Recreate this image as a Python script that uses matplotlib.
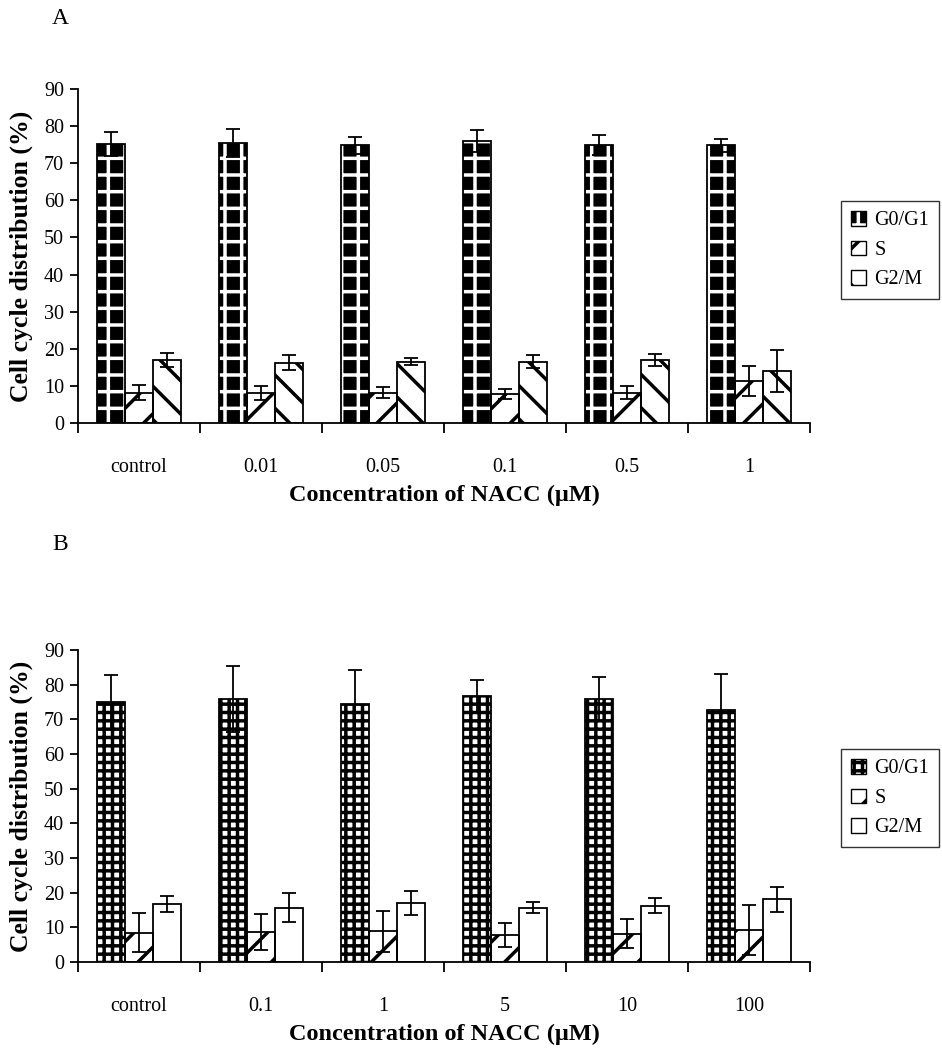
import numpy as np
import matplotlib
matplotlib.use('Agg')
import matplotlib.pyplot as plt
from matplotlib.patches import Patch

plt.rcParams['font.family'] = ['Liberation Serif', 'DejaVu Serif']
plt.rcParams['hatch.linewidth'] = 2.5

phases = ['G0/G1', 'S', 'G2/M']

# panel A
conc_a = ['control', '0.01', '0.05', '0.1', '0.5', '1']
g0_a = [75.2, 75.4, 74.8, 75.9, 74.9, 74.8]
g0_a_err = [3.3, 3.8, 2.2, 3.0, 2.6, 1.7]
s_a = [8.2, 8.2, 8.2, 7.8, 8.2, 11.3]
s_a_err = [2.0, 1.9, 1.4, 1.3, 1.7, 4.0]
g2_a = [17.0, 16.2, 16.5, 16.5, 17.0, 14.0]
g2_a_err = [1.8, 2.0, 1.0, 1.8, 1.7, 5.6]

# panel B
conc_b = ['control', '0.1', '1', '5', '10', '100']
g0_b = [75.0, 75.9, 74.5, 76.8, 75.9, 72.6]
g0_b_err = [7.7, 9.6, 9.6, 4.6, 6.4, 10.6]
s_b = [8.5, 8.7, 8.8, 7.8, 8.2, 9.2]
s_b_err = [5.7, 5.1, 5.9, 3.4, 4.1, 7.1]
g2_b = [16.7, 15.7, 17.1, 15.7, 16.2, 18.1]
g2_b_err = [2.2, 4.1, 3.5, 1.7, 2.2, 3.6]

# (face, hatch colour, hatch) for each phase
styles_a = [('black', 'white', '+'), ('white', 'black', '/'), ('white', 'black', '\\')]
styles_b = [('white', 'black', '++'), ('white', 'black', '/'), ('white', 'white', '')]


def panel(ax, cats, vals, errs, styles, letter, letter_y, leg_y):
    x = np.arange(len(cats))
    w = 0.23
    handles = []
    for k, (v, e, st) in enumerate(zip(vals, errs, styles)):
        pos = x + (k - 1) * w
        face, hc, h = st
        ax.bar(pos, v, w, color=face, edgecolor=hc, hatch=h, linewidth=0, zorder=2)
        ax.bar(pos, v, w, fill=False, edgecolor='black', linewidth=1.3, zorder=3)
        ax.errorbar(pos, v, yerr=e, fmt='none', ecolor='black', elinewidth=1.3,
                    capsize=5, capthick=1.3, zorder=4)
        handles.append((Patch(facecolor=face, edgecolor=hc, hatch=h, linewidth=0),
                        Patch(fill=False, edgecolor='black', linewidth=1.0)))
    ax.set_xlim(-0.5, len(cats) - 0.5)
    ax.set_ylim(0, 90)
    ax.set_yticks(range(0, 91, 10))
    ax.set_xticks(np.arange(len(cats) + 1) - 0.5)
    ax.set_xticklabels([])
    ax.set_xticks(x, minor=True)
    ax.set_xticklabels(cats, minor=True)
    ax.tick_params(axis='x', which='major', direction='out', length=7, width=1.3)
    ax.tick_params(axis='x', which='minor', length=0, pad=25, labelsize=14.5)
    ax.tick_params(axis='y', direction='out', length=6, width=1.3, labelsize=14.5, pad=4)
    for s in ['top', 'right']:
        ax.spines[s].set_visible(False)
    for s in ['left', 'bottom']:
        ax.spines[s].set_linewidth(1.3)
    ax.set_ylabel('Cell cycle distribution (%)', fontsize=18.5, fontweight='bold', labelpad=8)
    ax.set_xlabel('Concentration of NACC (\u03bcM)', fontsize=17.5, fontweight='bold', labelpad=6)
    leg = fig.legend(handles, phases, loc='upper left', bbox_to_anchor=(841 / 942, leg_y),
                     fontsize=14.5, frameon=True, fancybox=False, edgecolor='black',
                     handlelength=0.75, handleheight=0.75, handletextpad=0.4,
                     labelspacing=0.5, borderpad=0.5, borderaxespad=0)
    leg.get_frame().set_linewidth(1.0)
    fig.text(60 / 942, letter_y, letter, fontsize=17, ha='center', va='center')


fig = plt.figure(figsize=(9.42, 10.5), dpi=100)
ax_a = fig.add_axes([78 / 942, 1 - 423 / 1050, 732 / 942, 334 / 1050])
ax_b = fig.add_axes([78 / 942, 1 - 962 / 1050, 732 / 942, 312 / 1050])

panel(ax_a, conc_a, [g0_a, s_a, g2_a], [g0_a_err, s_a_err, g2_a_err], styles_a,
      'A', 1 - 18 / 1050, 1 - 201 / 1050)
panel(ax_b, conc_b, [g0_b, s_b, g2_b], [g0_b_err, s_b_err, g2_b_err], styles_b,
      'B', 1 - 545 / 1050, 1 - 749 / 1050)

fig.savefig('out.png', dpi=100)
